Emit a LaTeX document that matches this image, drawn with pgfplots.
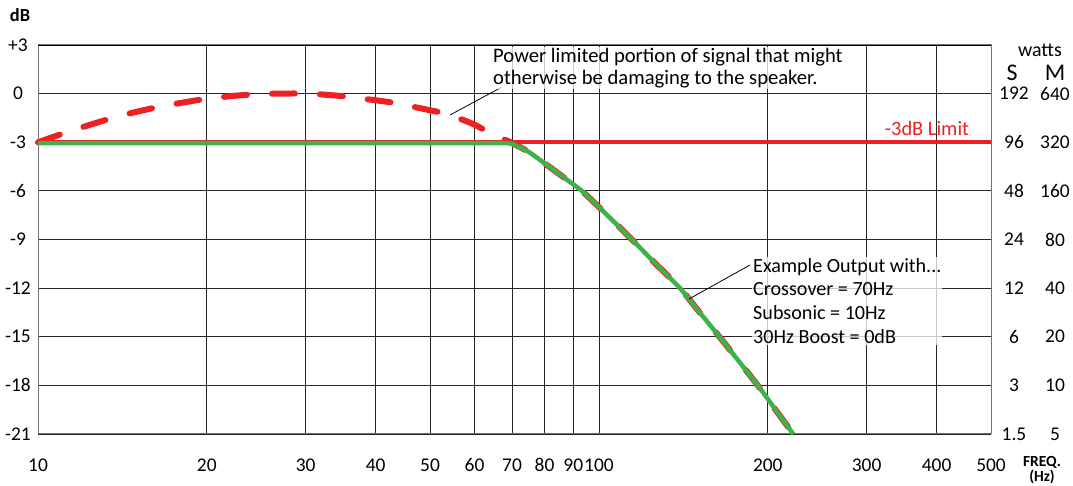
\documentclass[border=0pt]{standalone}
\usepackage{pgfplots}
\pgfplotsset{compat=1.18}
\usepackage{fontspec}
\setmainfont{Carlito}
\definecolor{rd}{RGB}{237,32,36}
\definecolor{gr}{RGB}{60,178,74}
\newcommand{\fs}{\fontsize{19.5}{22}\selectfont}
\begin{document}
\begin{tikzpicture}[x=1bp,y=1bp,font=\fs]
\useasboundingbox (-38,-52) rectangle (1035,434);
\begin{axis}[
  at={(0,0)}, anchor=south west, scale only axis,
  width=953bp, height=389bp,
  xmode=log, xmin=10, xmax=500, ymin=-21, ymax=3,
  xtick={10,20,30,40,50,60,70,80,90,100,200,300,400,500},
  xticklabels={10,20,30,40,50,60,70,80,90,100,200,300,400,500},
  ytick={-21,-18,-15,-12,-9,-6,-3,0,3},
  yticklabels={-21,-18,-15,-12,-9,-6,-3,0,+3},
  minor xtick={}, 
  grid=major, major grid style={black!85, line width=0.8bp},
  axis line style={black!55, line width=1bp},
  tick style={draw=none},
  ticklabel style={font=\fs},
  xticklabel style={anchor=center, yshift=-31bp},
  yticklabel style={anchor=center, xshift=-20bp},
  clip=false,
]
% -3 dB limit line
\addplot[rd, line width=4bp] coordinates {(10,-3) (500,-3)};
% power limited (unlimited) response - red dashed
\addplot[rd, line width=6bp, dash pattern=on 23bp off 25bp, line cap=round, smooth, tension=0.5] coordinates {
 (10,-3) (11,-2.5) (12,-2.07) (13,-1.7) (14,-1.37) (16,-0.9) (18,-0.57) (20,-0.32)
 (23,-0.1) (26,-0.01) (30,0) (34,-0.12) (37,-0.27) (41,-0.46) (44,-0.63)
 (50,-1.03) (53,-1.22) (59,-1.8) (63,-2.3) (70,-3.05)
 (75,-3.6) (80,-4.3) (90,-5.6) (93.2,-6) (100,-7.0) (114.5,-9) (125,-10.35)
 (139.5,-12) (150,-13.35) (164,-15) (180,-16.77) (192,-18) (200,-18.84) (210,-19.86) (222,-21)};
% example output - green
\addplot[gr, line width=4.5bp, smooth, tension=0.3] coordinates {
 (10,-3.05) (40,-3.05) (66,-3.05) (70,-3.1)
 (75,-3.6) (80,-4.3) (90,-5.6) (93.2,-6) (100,-7.0) (114.5,-9) (125,-10.35)
 (139.5,-12) (150,-13.35) (164,-15) (180,-16.77) (192,-18) (200,-18.84) (210,-19.86) (222,-21)};
\draw[black, line width=0.8bp] (rel axis cs:0,1) -- (rel axis cs:1,1);
\end{axis}
% annotations
\draw[black, line width=0.8bp] (412,319) -- (464,347);
\node[anchor=west, align=left, fill=white, fill opacity=0.75, text opacity=1, inner sep=1bp,
      font=\fontsize{20.7}{22}\selectfont] at (454,366)
  {Power limited portion of signal that might\\otherwise be damaging to the speaker.};
\draw[black, line width=0.8bp] (651,135) -- (712,169);
\node[anchor=west, align=left, fill=white, fill opacity=0.75, text opacity=1, inner sep=1bp,
      font=\fontsize{20.2}{24}\selectfont] at (714,133)
  {Example Output with...\\Crossover = 70Hz\\Subsonic = 10Hz\\30Hz Boost = 0dB};
\node[rd, font=\fontsize{20.5}{22}\selectfont] at (889,306) {-3dB Limit};
% axis titles
\node[font=\fontsize{18.5}{20}\bfseries] at (-18,419) {dB};
\node[align=center, font=\fontsize{15.5}{11.5}\bfseries, inner sep=0pt] at (1004,-36) {FREQ.\\(Hz)};
\node[font=\fontsize{20}{20}\selectfont] at (1002,384) {watts};
\node[font=\fontsize{24}{26}\selectfont] at (974,361) {S};
\node[font=\fontsize{24}{26}\selectfont] at (1017,361) {M};
\foreach \s/\m/\yy in {192/640/340.4, 96/320/291.7, 48/160/243.1, 24/80/194.5, 12/40/145.9, 6/20/97.25, 3/10/48.6, 1.5/5/0}
{ \node at (976,\yy) {\s}; \node at (1017,\yy) {\m}; }
\end{tikzpicture}
\end{document}
